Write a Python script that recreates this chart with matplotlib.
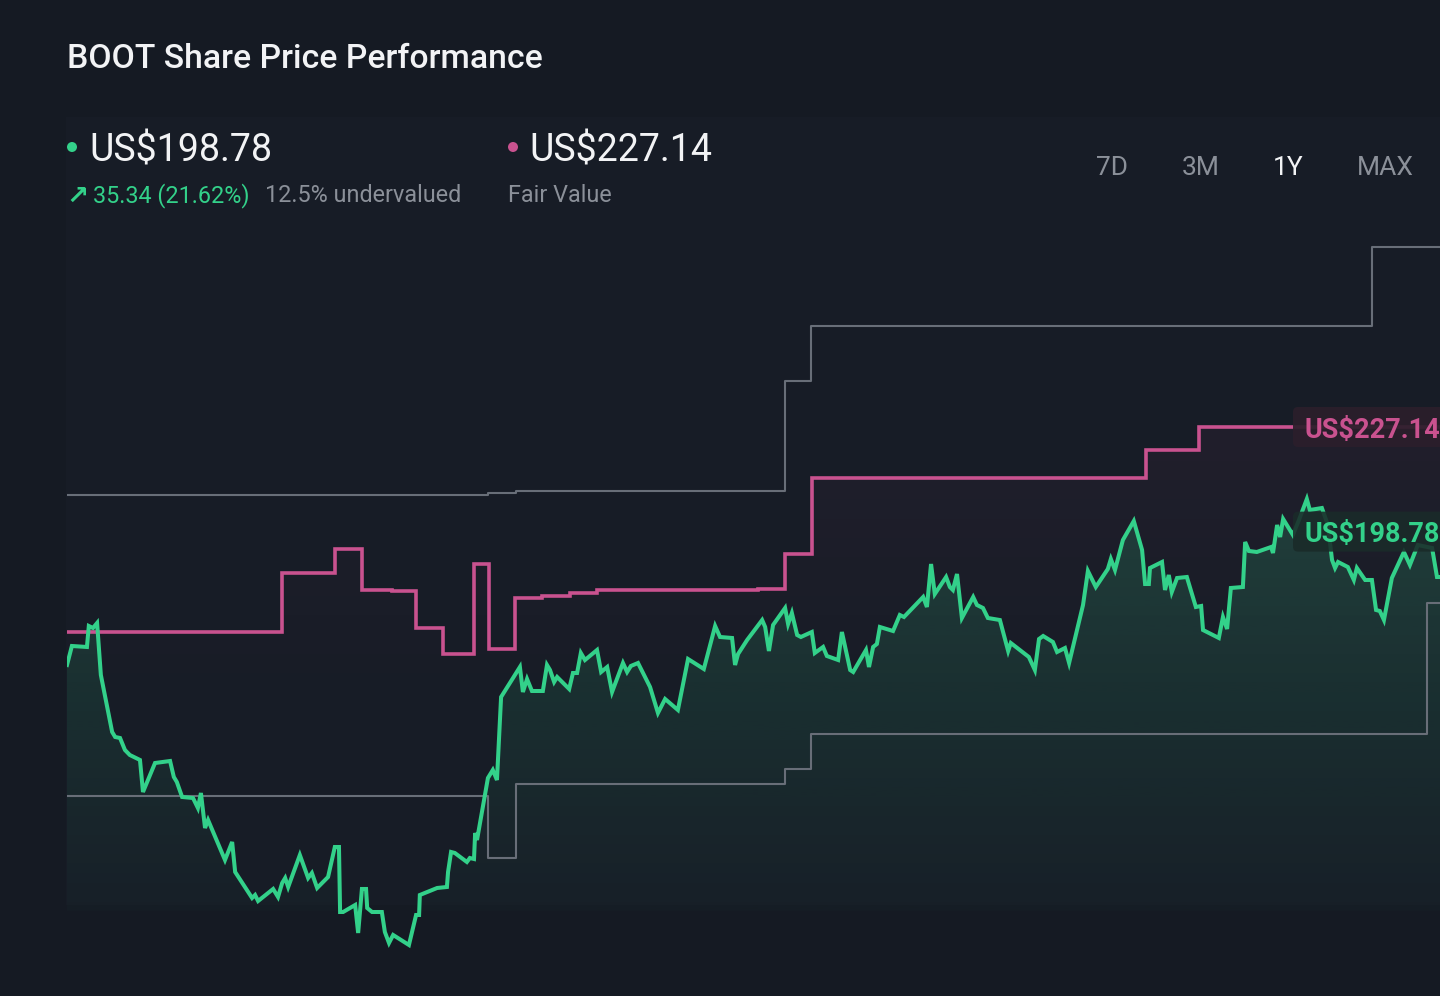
import numpy as np
import matplotlib
matplotlib.use("Agg")
import matplotlib.pyplot as plt
from matplotlib.patches import Polygon, FancyBboxPatch, Rectangle, Ellipse

# ---------------- data ----------------
title = "BOOT Share Price Performance"
last_price = 198.78
fair_value = 227.14
change_abs = 35.34
change_pct = 21.62
undervalued_pct = 12.5
periods = ["7D", "3M", "1Y", "MAX"]
active_period = "1Y"

# share price (day of the 1Y window, US$)
price_days = [0.0, 1.3, 5.3, 5.8, 6.9, 8.0, 9.0, 12.0, 12.8, 14.1, 15.4, 16.7, 19.4, 20.2, 23.4, 27.4,
              28.4, 29.2, 30.6, 33.5, 34.8, 35.6, 36.7, 37.5, 42.0, 43.9, 44.7, 49.2, 50.0, 50.8, 54.8,
              56.1, 57.2, 58.0, 58.8, 61.9, 64.1, 65.1, 66.5, 69.4, 71.2, 72.3, 72.6, 73.4, 76.6, 77.4,
              78.4, 79.5, 79.8, 81.1, 83.7, 84.5, 85.6, 86.7, 90.9, 92.8, 93.6, 93.8, 98.4, 101.0, 101.3,
              102.1, 103.1, 106.3, 107.1, 108.2, 108.5, 109.0, 111.9, 113.2, 114.3, 115.4, 116.4, 120.4,
              121.2, 122.3, 123.6, 126.5, 127.6, 128.4, 129.5, 130.3, 133.5, 134.5, 135.6, 136.6, 137.7,
              140.9, 142.0, 143.6, 144.9, 147.8, 148.9, 149.9, 151.8, 155.0, 157.1, 159.0, 162.4, 165.1,
              169.3, 172.3, 173.6, 176.8, 177.6, 178.4, 180.8, 184.8, 185.6, 186.6, 187.7, 190.9, 191.7,
              192.7, 194.1, 195.1, 198.0, 198.8, 201.0, 202.0, 205.0, 206.0, 208.2, 209.0, 212.4, 213.2,
              214.3, 215.3, 216.1, 219.6, 221.4, 222.5, 227.6, 228.6, 229.7, 230.7, 233.7, 234.7, 235.5,
              236.6, 237.9, 240.9, 241.9, 243.5, 244.8, 248.0, 250.2, 250.9, 255.7, 257.3, 258.4, 259.5,
              262.1, 263.2, 265.3, 266.4, 270.1, 271.4, 273.5, 276.7, 277.5, 278.6, 280.7, 283.6, 285.8,
              286.6, 287.6, 287.9, 291.1, 291.9, 292.9, 293.7, 295.1, 297.7, 300.1, 301.5, 302.0, 306.2,
              307.3, 308.4, 309.4, 312.6, 313.2, 314.2, 316.3, 320.1, 320.6, 321.7, 322.5, 323.3, 325.9,
              327.5, 329.6, 330.4, 333.6, 335.2, 336.3, 337.1, 337.9, 340.5, 342.1, 342.9, 345.1, 346.9,
              348.0, 349.0, 350.1, 352.2, 355.4, 357.0, 359.1, 362.9, 364.2, 365.0]
price_vals = [162.63, 167.78, 167.51, 173.20, 172.66, 174.01, 159.92, 144.47, 143.11, 142.84, 139.59,
              138.23, 136.88, 128.20, 136.06, 136.60, 132.27, 130.91, 126.85, 126.57, 123.86, 127.93,
              118.44, 120.61, 109.77, 114.65, 106.52, 99.47, 100.28, 98.65, 101.91, 99.74, 103.53, 104.89,
              102.45, 111.12, 104.89, 106.24, 102.18, 105.16, 113.29, 113.29, 95.67, 95.67, 97.57, 89.98,
              101.91, 101.91, 96.76, 95.67, 95.67, 90.25, 87.27, 89.44, 86.73, 94.86, 94.86, 100.28,
              102.18, 102.45, 106.52, 111.94, 111.67, 109.23, 110.31, 110.04, 117.09, 115.19, 132.00,
              134.16, 131.45, 153.95, 155.58, 162.08, 155.31, 158.83, 155.58, 155.58, 162.63, 161.27,
              158.02, 159.37, 156.12, 160.46, 160.46, 165.88, 163.98, 166.69, 160.73, 162.08, 155.31,
              163.17, 160.73, 162.36, 163.17, 156.66, 149.62, 153.41, 150.43, 164.25, 161.54, 173.20,
              170.22, 169.95, 162.63, 165.61, 169.40, 174.82, 172.93, 166.42, 173.47, 178.08, 173.74,
              176.72, 170.76, 170.22, 171.57, 165.88, 167.51, 165.07, 163.98, 171.57, 161.27, 160.73,
              166.69, 162.08, 167.51, 168.32, 172.93, 171.84, 176.18, 175.64, 181.06, 178.35, 190.00,
              181.87, 186.48, 183.77, 182.96, 187.29, 175.37, 181.06, 178.89, 178.08, 175.37, 174.82,
              166.42, 168.59, 164.80, 161.27, 169.67, 170.49, 168.86, 166.15, 167.23, 163.17, 178.89,
              188.11, 183.77, 188.65, 191.36, 188.38, 196.51, 201.66, 193.80, 184.58, 184.58, 188.92,
              190.55, 182.96, 187.02, 182.41, 186.21, 186.48, 178.35, 178.62, 172.11, 169.95, 175.64,
              172.39, 183.50, 183.77, 195.97, 193.53, 193.26, 194.61, 192.99, 200.58, 197.32, 202.20,
              197.87, 201.93, 207.62, 204.64, 205.18, 200.58, 191.09, 188.92, 190.55, 189.19, 185.67,
              188.92, 185.67, 185.67, 177.54, 177.26, 174.82, 186.21, 193.26, 189.73, 195.16, 194.34,
              186.48, 186.48]

# fair value estimate (step changes)
fv_days = [0.0, 57.2, 71.2, 78.4, 86.4, 92.8, 100.0, 108.2, 112.2, 119.1, 126.3, 133.7, 140.9,
           183.7, 190.9, 198.0, 286.8, 300.9, 365.0]
fv_vals = [171.57, 187.57, 194.07, 182.96, 182.55, 172.66, 165.74, 190.00, 166.83, 180.79, 181.33,
           182.14, 182.96, 183.23, 192.72, 213.32, 220.91, 227.14, 227.14]

# analyst range (high / low)
hi_days = [0.0, 111.9, 119.4, 190.9, 197.8, 346.9, 365.0]
hi_vals = [208.71, 209.25, 209.79, 239.61, 254.52, 275.93, 275.93]
lo_days = [0.0, 111.9, 119.4, 190.9, 197.8, 361.5, 365.0]
lo_vals = [127.12, 110.31, 130.37, 134.44, 143.92, 179.43, 179.43]

# ---------------- style ----------------
BG = "#151a23"
PANEL = "#171c26"
GREEN = "#33d18a"
PINK = "#c9528f"
GREY = "#686e78"
TXT_GREY = "#8b9099"
WHITE = "#f2f3f5"
FONT = ["Roboto", "DejaVu Sans"]

W, H = 1440, 996
fig = plt.figure(figsize=(W / 100, H / 100), dpi=100, facecolor=BG)
plt.rcParams["font.family"] = FONT

# subtle chart panel (behind everything)
fig.patches.append(Rectangle((66 / W, 1 - 905 / H), 1 - 66 / W, (905 - 117) / H,
                             transform=fig.transFigure, facecolor=PANEL, edgecolor="none",
                             zorder=-5))

ax = fig.add_axes([67 / W, 0, 1 - 67 / W, 1])
ax.set_facecolor("none")
ax.set_zorder(1)
ax.set_xlim(0, 365)
ax.set_ylim(72.90, 342.89)
ax.axis("off")

days = np.array(price_days)
vals = np.array(price_vals)
base = 96.0

# green gradient fill under price
top_v = 215.0
grad = np.zeros((256, 1, 4))
gc = matplotlib.colors.to_rgb(GREEN)
grad[..., 0], grad[..., 1], grad[..., 2] = gc
grad[:, 0, 3] = np.linspace(0.02, 0.20, 256)
im = ax.imshow(grad, extent=[0, 365, base, top_v], origin="lower", aspect="auto", zorder=2,
               interpolation="bilinear")
poly_x = np.r_[days, days[::-1]]
poly_y = np.r_[np.maximum(vals, base), np.full(len(days), base)]
clip = Polygon(np.column_stack([poly_x, poly_y]), closed=True, transform=ax.transData,
               facecolor="none", edgecolor="none")
ax.add_patch(clip)
im.set_clip_path(clip)

# faint pink fill under fair value
fvx = np.repeat(fv_days, 2)[1:]
fvy = np.repeat(fv_vals, 2)[:-1]
gradp = np.zeros((256, 1, 4))
pc = matplotlib.colors.to_rgb(PINK)
gradp[..., 0], gradp[..., 1], gradp[..., 2] = pc
gradp[:, 0, 3] = np.linspace(0.0, 0.06, 256)
imp = ax.imshow(gradp, extent=[0, 365, 150, 230], origin="lower", aspect="auto", zorder=1.5,
                interpolation="bilinear")
clipp = Polygon(np.column_stack([np.r_[fvx, fvx[::-1]], np.r_[fvy, np.full(len(fvy), 150)]]),
                closed=True, transform=ax.transData, facecolor="none", edgecolor="none")
ax.add_patch(clipp)
imp.set_clip_path(clipp)

# analyst range lines
ax.step(hi_days, hi_vals, where="post", color=GREY, lw=1.5, zorder=3)
ax.step(lo_days, lo_vals, where="post", color=GREY, lw=1.5, zorder=3)
# fair value
ax.step(fv_days, fv_vals, where="post", color=PINK, lw=2.6, zorder=4, solid_joinstyle="miter")
# price
ax.plot(days, vals, color=GREEN, lw=2.9, zorder=5, solid_joinstyle="miter")


# end labels
def end_label(value, text, fc, tc):
    _, yc = ax.transData.transform((0, value))
    x0 = 1293
    box = FancyBboxPatch((x0, yc - 20), 200, 40, boxstyle="round,pad=0,rounding_size=5",
                         transform=None, facecolor=fc, edgecolor="none", zorder=6)
    fig.patches.append(box)
    fig.text(1304 / W, yc / H, text, color=tc, fontsize=19.5, fontweight="bold",
             va="center_baseline", ha="left", zorder=7)


end_label(fair_value, f"US${fair_value:.2f}", (0.17, 0.12, 0.17, 0.93), PINK)
end_label(last_price, f"US${last_price:.2f}", (0.10, 0.17, 0.16, 0.88), GREEN)


# ---------------- header ----------------
def ftxt(x, y, s, **kw):
    fig.text(x / W, 1 - y / H, s, **kw)


ftxt(67, 55, title, color=WHITE, fontsize=24.3, fontweight="medium", va="center_baseline")

fig.patches.append(Ellipse((72 / W, 1 - 147 / H), 10 / W, 10 / H, transform=fig.transFigure,
                           facecolor=GREEN, edgecolor="none"))
fig.patches.append(Ellipse((513 / W, 1 - 147 / H), 10 / W, 10 / H, transform=fig.transFigure,
                           facecolor=PINK, edgecolor="none"))

ftxt(89, 147, f"US${last_price:.2f}", color=WHITE, fontsize=27, va="center_baseline")
ftxt(529, 147, f"US${fair_value:.2f}", color=WHITE, fontsize=27, va="center_baseline")

ftxt(66, 194, "\u2197", color=GREEN, fontsize=19, fontweight="bold", family=["DejaVu Sans"],
     va="center_baseline")
ftxt(93, 193, f"{change_abs:.2f} ({change_pct:.2f}%)", color=GREEN, fontsize=16.8,
     va="center_baseline")
ftxt(265, 193, f"{undervalued_pct}% undervalued", color=TXT_GREY, fontsize=16.8,
     va="center_baseline")
ftxt(508, 193, "Fair Value", color=TXT_GREY, fontsize=16.8, va="center_baseline")

period_x = [1112, 1201, 1288, 1385]
for p, px in zip(periods, period_x):
    ftxt(px, 165, p, color=WHITE if p == active_period else TXT_GREY, fontsize=19,
         ha="center", va="center_baseline")

fig.savefig("out.png", dpi=100, facecolor=BG)
